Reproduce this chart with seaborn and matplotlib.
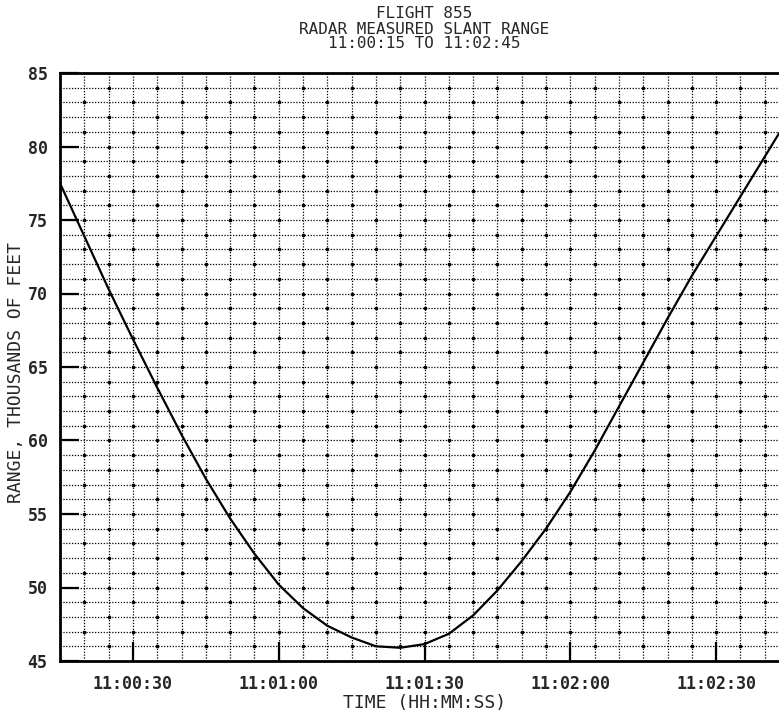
import numpy as np
import seaborn as sns
import matplotlib.pyplot as plt
from matplotlib.ticker import MultipleLocator, FuncFormatter

# Slant range (seconds after 11:00:00, thousands of feet)
seconds = [15, 20, 25, 30, 35, 40, 45, 50, 55, 60, 65, 70, 75, 80, 85,
           90, 95, 100, 105, 110, 115, 120, 125, 130, 135, 140, 145, 150,
           155, 160, 165]
range_kft = [77.5, 73.9, 70.3, 66.9, 63.6, 60.4, 57.4, 54.7, 52.3, 50.2,
             48.6, 47.4, 46.6, 46.0, 45.9, 46.15, 46.85, 48.1, 49.8, 51.8,
             54.0, 56.5, 59.3, 62.3, 65.3, 68.3, 71.2, 73.9, 76.6, 79.3,
             82.0]
x_ticks = [30, 60, 90, 120, 150]
y_ticks = [45, 50, 55, 60, 65, 70, 75, 80, 85]

sns.set_style("white")
plt.rcParams['font.family'] = ['DejaVu Sans Mono', 'DejaVu Sans']

fig = plt.figure(figsize=(7.79, 7.16), dpi=100)
ax = fig.add_axes([60 / 779, 55 / 716, 729 / 779, 588 / 716])

# dotted grid, every 5 s and every 1000 ft
ax.xaxis.set_minor_locator(MultipleLocator(5))
ax.yaxis.set_minor_locator(MultipleLocator(1))
ax.grid(which='both', color='black', linestyle=(0, (1, 1.3)), linewidth=0.9)
ax.set_axisbelow(True)

# plotter dots where grid lines cross
gx, gy = np.meshgrid(np.arange(20, 165, 5), np.arange(46, 85, 1))
mask = ((gx // 5 + gy) % 2) == 1
ax.scatter(gx[mask], gy[mask], s=7, color='black', linewidths=0, zorder=1)

sns.lineplot(x=seconds, y=range_kft, color='black', linewidth=1.6, ax=ax, zorder=3)

ax.set_xlim(15, 165)
ax.set_ylim(45, 85)
ax.set_xticks(x_ticks)
ax.set_yticks(y_ticks)
ax.xaxis.set_major_formatter(FuncFormatter(lambda s, p: "11:%02d:%02d" % (s // 60, s % 60)))
ax.tick_params(which='major', direction='in', length=14, width=1.6, color='black',
               bottom=True, left=True, labelsize=12, pad=10)
ax.tick_params(which='minor', length=0)
ax.tick_params(axis='y', pad=9)
for lab in ax.get_xticklabels() + ax.get_yticklabels():
    lab.set_fontweight('bold')

for side in ['top', 'bottom', 'left', 'right']:
    ax.spines[side].set_color('black')
    ax.spines[side].set_linewidth(2)

ax.set_xlabel("TIME (HH:MM:SS)", fontsize=13, labelpad=1)
ax.set_ylabel("RANGE, THOUSANDS OF FEET", fontsize=13)
ax.yaxis.set_label_coords(-0.048, 0.491)

fig.text(424 / 779, 1 - 14 / 716, "FLIGHT 855", ha='center', va='center', fontsize=11.5)
fig.text(424 / 779, 1 - 29 / 716, "RADAR MEASURED SLANT RANGE", ha='center', va='center', fontsize=11.5)
fig.text(424 / 779, 1 - 44 / 716, "11:00:15 TO 11:02:45", ha='center', va='center', fontsize=11.5)

plt.savefig("out.png", dpi=100)
